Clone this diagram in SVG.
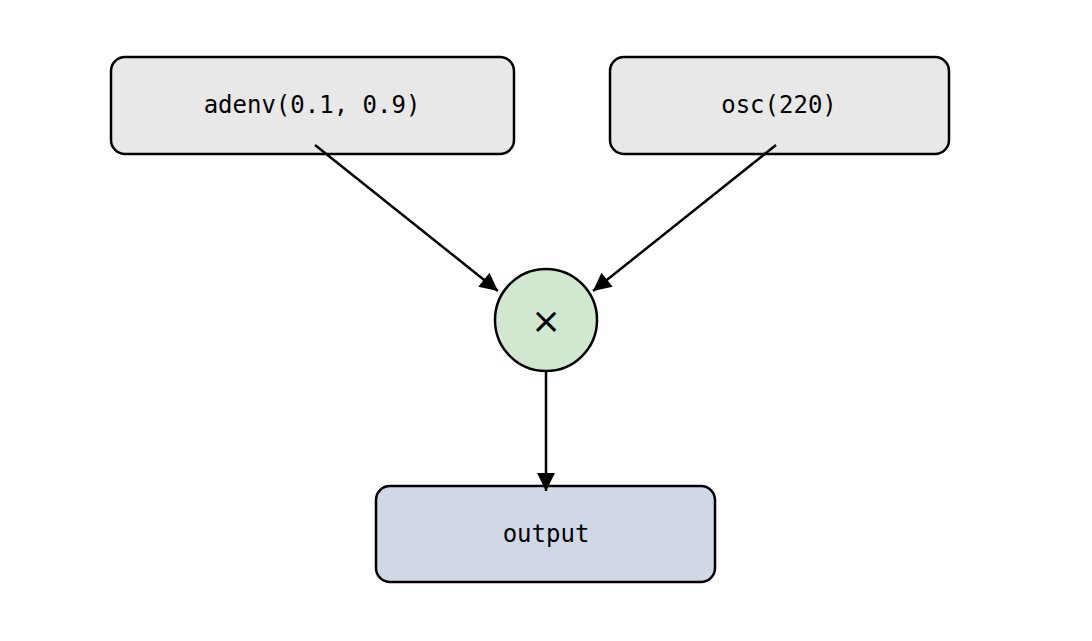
<svg xmlns="http://www.w3.org/2000/svg" width="1092" height="641" viewBox="0 0 1092 641">
<style>
.box{stroke:#000;stroke-width:2.5}
.t{font-family:"DejaVu Sans Mono",monospace;font-size:24px;text-anchor:middle;dominant-baseline:central}
.e{stroke:#000;stroke-width:2.5;fill:none;marker-end:url(#a)}
</style>
<defs><marker id="a" viewBox="0 0 10 10" refX="9" refY="5" markerWidth="8" markerHeight="8" markerUnits="userSpaceOnUse" orient="auto"><path d="M0,0L10,5L0,10z"/></marker>
<marker id="b" viewBox="0 0 10 10" refX="10" refY="5" markerWidth="20" markerHeight="18" markerUnits="userSpaceOnUse" orient="auto"><path d="M0,0L10,5L0,10z"/></marker></defs>
<rect width="1092" height="641" fill="#fff"/>
<g id="adenv"><rect class="box" x="111" y="57" width="403" height="97" rx="14" fill="#e8e8e8"/><text class="t" x="312" y="105">adenv(0.1, 0.9)</text></g>
<g id="osc"><rect class="box" x="610" y="57" width="339" height="97" rx="14" fill="#e8e8e8"/><text class="t" x="779" y="105">osc(220)</text></g>
<g id="mul"><circle class="box" cx="546" cy="320" r="51" fill="#d0e8d0"/><text class="t" x="546" y="320" style="font-size:36px;font-family:'DejaVu Sans',sans-serif">×</text></g>
<g id="output"><rect class="box" x="376" y="486" width="339" height="96" rx="14" fill="#d0d8e8"/><text class="t" x="546" y="534">output</text></g>
<g id="edges" stroke="#000" stroke-width="2.5" fill="none">
<path d="M315,145L498,291" marker-end="url(#b)"/>
<path d="M776,145L593,291" marker-end="url(#b)"/>
<path d="M546,372L546,491" marker-end="url(#b)"/>
</g>
</svg>
